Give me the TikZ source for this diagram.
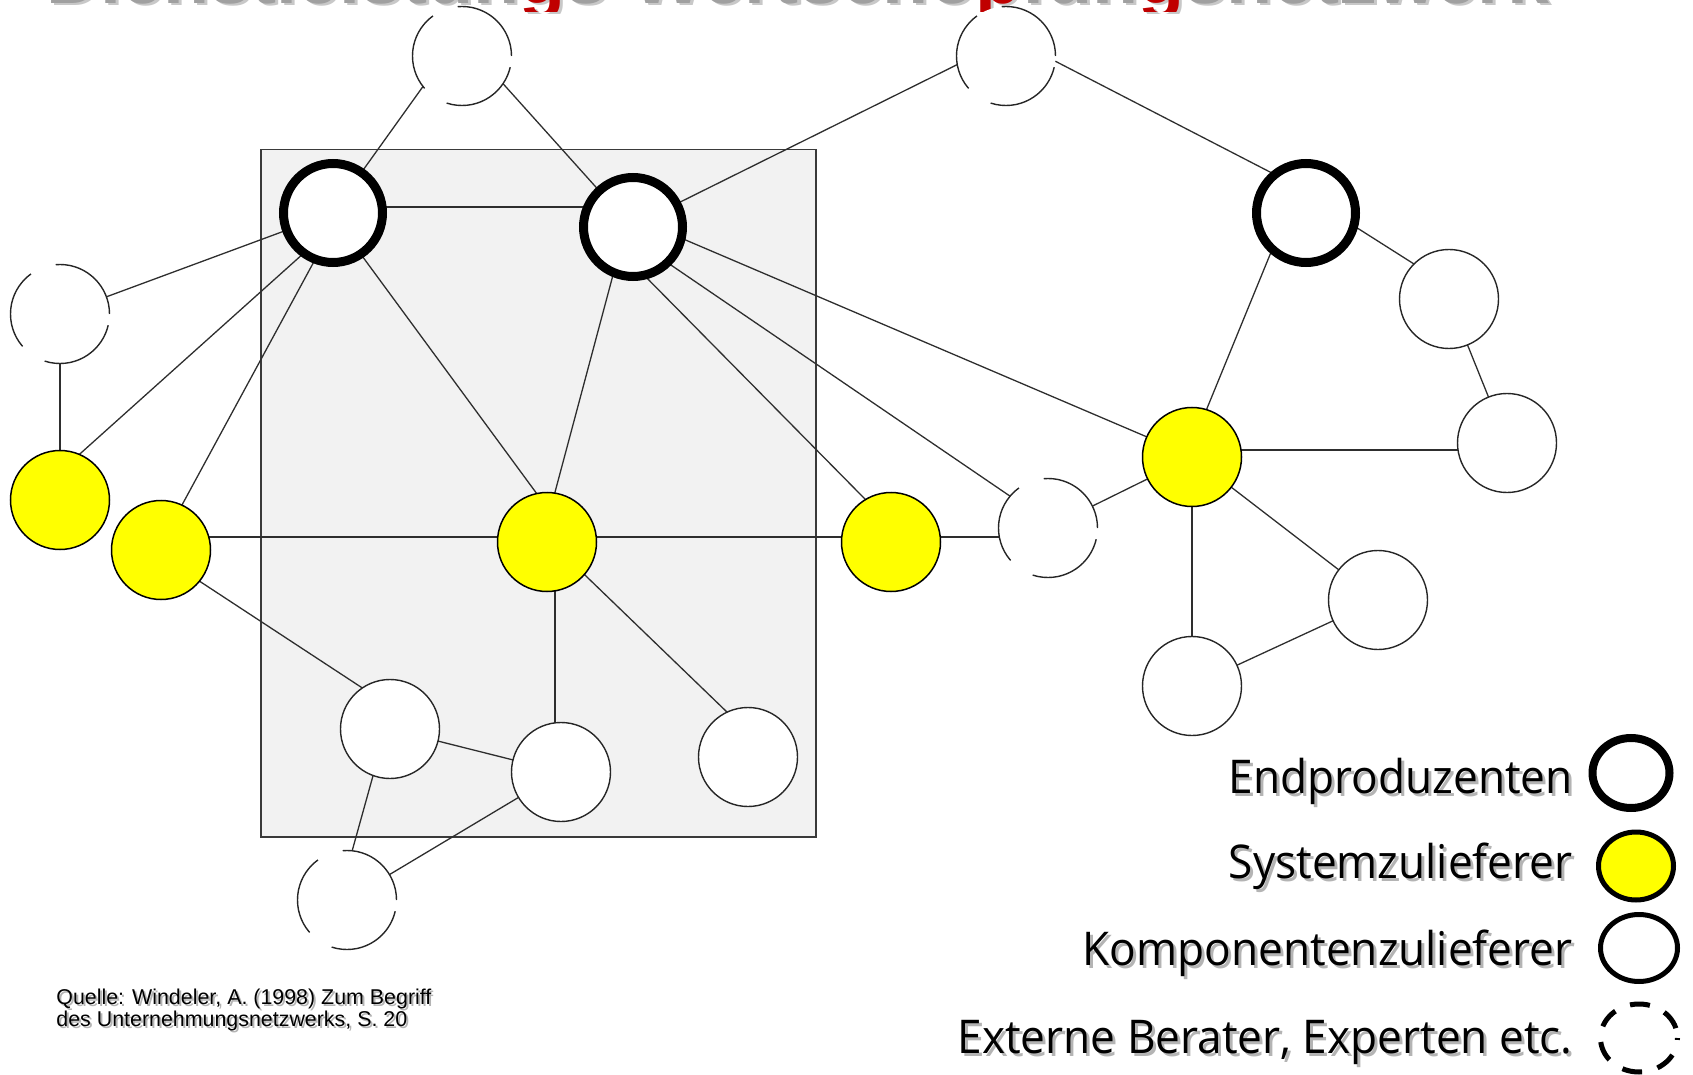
\documentclass[tikz,border=0pt]{standalone}
\usepackage{fontspec}
\setmainfont{Liberation Sans}
\newfontfamily\legfont[FakeStretch=0.95]{Open Sans}
\newfontfamily\srcfont{Liberation Sans}
\newfontfamily\ttlfont{Liberation Sans}
\usetikzlibrary{shapes.geometric}
\pgfdeclarelayer{bgl}
\pgfdeclarelayer{edgel}
\pgfsetlayers{bgl,edgel,main}
\definecolor{edgecol}{HTML}{2E2E2E}
\definecolor{boxfill}{HTML}{F2F2F2}
\definecolor{boxline}{HTML}{3A3A3A}
\definecolor{sysyellow}{HTML}{FFFF00}
\definecolor{titlered}{HTML}{C00000}
\definecolor{shadowgray}{HTML}{B4B4B4}
\definecolor{titlegray}{HTML}{A0A0A0}
\definecolor{titleshadow}{HTML}{C8C8C8}
\newcommand{\ttltext}{Dienstleistungs-Wertschöpfungsnetzwerk}
\newcommand{\ttlcolored}{{\color{titlegray}Dienstleistun}{\color{titlered}g}{\color{titlegray}s-Wertsch\"o}{\color{titlered}p}{\color{titlegray}fun}{\color{titlered}g}{\color{titlegray}snetzwerk}}
\begin{document}
\begin{tikzpicture}[x=0.5pt,y=-0.5pt,
  nd/.style={circle,minimum size=49.5pt,inner sep=0pt,outer sep=0pt},
  endp/.style={nd,draw=black,line width=4.5pt,fill=white},
  sysz/.style={nd,draw=black,line width=0.75pt,fill=sysyellow},
  komp/.style={nd,draw=black!85,line width=0.7pt,fill=white},
  ext/.style={nd,draw=black!85,line width=0.7pt,fill=white,dash pattern=on 41pt off 13.4pt},
  link/.style={draw=edgecol,line width=0.65pt},
  legtxt/.style={anchor=base east,inner sep=0pt,font=\legfont\fontsize{23.25pt}{26pt}\selectfont},
  srctxt/.style={anchor=base west,inner sep=0pt,font=\srcfont\fontsize{10.7pt}{11pt}\selectfont},
  ttltxt/.style={anchor=base west,inner sep=0pt,font=\ttlfont\bfseries\fontsize{37.7pt}{40pt}\selectfont},
  legel/.style={ellipse,inner sep=0pt,outer sep=0pt,minimum width=38.5pt,minimum height=34pt}
]
\useasboundingbox (0,0) rectangle (1693,1075);

% title (cut off at the top edge)
\begin{scope}
  \clip (0,0) rectangle (1693,14);
  \node[ttltxt,text=titleshadow] (ttlshadow) at (49,6) {\ttltext};
\end{scope}
\begin{scope}
  \clip (0,0) rectangle (1693,11.5);
  \node[ttltxt] (ttl) at (46,4) {\ttlcolored};
\end{scope}

% grey box
\begin{pgfonlayer}{bgl}
  \node[rectangle,draw=boxline,fill=boxfill,line width=0.75pt,minimum width=277.5pt,minimum height=343.5pt,anchor=north west,inner sep=0pt] (box) at (260,149) {};
\end{pgfonlayer}

% nodes
\node[ext] (D1) at (462,56) {};
\node[ext] (D2) at (1006,56) {};
\node[ext] (D3) at (60,314) {};
\node[ext] (D4) at (1048,528) {};
\node[ext] (D5) at (347,900) {};

\node[endp] (E1) at (333,213) {};
\node[endp] (E2) at (633,227) {};
\node[endp] (E3) at (1306,213) {};

\node[sysz] (Y1) at (60,500) {};
\node[sysz] (Y2) at (161,550) {};
\node[sysz] (Y3) at (547,542) {};
\node[sysz] (Y4) at (891,542) {};
\node[sysz] (Y5) at (1192,457) {};

\node[komp] (W1) at (1449,299) {};
\node[komp] (W2) at (1507,443) {};
\node[komp] (W3) at (1378,600) {};
\node[komp] (W4) at (1192,686) {};
\node[komp] (W5) at (390,729) {};
\node[komp] (W6) at (561,772) {};
\node[komp] (W7) at (748,757) {};

\coordinate (h1) at (0,537);
\coordinate (h2) at (0,450);
\coordinate (v1) at (555,0);

% connectors
\begin{pgfonlayer}{edgel}
\draw[link] (D1.218) -- (E1.55);
\draw[link] (D1.-34) -- (E2.133);
\draw[link] (D2.190) -- (E2.28);
\draw[link] (D2.-6) -- (E3.129);
\draw[link] ([yshift=3pt]E1.center) -- ([yshift=3pt]E1.center -| E2.center);
\draw[link] (E1) -- (D3);
\draw[link] (E1.234) -- (Y1.67);
\draw[link] (E1.249) -- (Y2.65);
\draw[link] (E1.-56) -- (Y3.102);
\draw[link] (E2.247) -- (Y3.81);
\draw[link] (E2.-77) -- (Y4.121);
\draw[link] (E2.-46) -- (D4.140);
\draw[link] (E2.-13) -- (Y5.156);
\draw[link] (E3.227) -- (Y5.73);
\draw[link] (E3.-15) -- (W1.135);
\draw[link] (W1) -- (W2);
\draw[link] (Y5 |- h2) -- (W2 |- h2);
\draw[link] (Y5) -- (W3);
\draw[link] (Y5) -- (W4);
\draw[link] (W4) -- (W3);
\draw[link] (Y5) -- (D4);
\draw[link] (D3) -- (Y1);
\draw[link] (Y2 |- h1) -- (D4 |- h1);
\draw[link] (Y2.-39) -- (W5.124);
\draw[link] (v1 |- Y3) -- (v1 |- W6);
\draw[link] (Y3.-41) -- (W7.115);
\draw[link] (W5) -- (W6);
\draw[link] (W5.250) -- (D5.84);
\draw[link] (W6) -- (D5);
\end{pgfonlayer}

% legend
\node[legel,draw=black,line width=4pt,minimum width=38.5pt,minimum height=35pt] (LE) at (1631,773) {};
\node[legel,draw=black,line width=2.5pt,fill=sysyellow,minimum width=37.5pt,minimum height=34pt] (LS) at (1636,866) {};
\node[legel,draw=black,line width=2.5pt,minimum width=38.5pt,minimum height=33.5pt] (LK) at (1639,948) {};
\node[legel,draw=black,line width=2.5pt,minimum width=38.5pt,minimum height=34pt,dash pattern=on 10pt off 8pt,dash phase=13pt] (LX) at (1639,1038) {};

\node[legtxt,text=shadowgray] (t1s) at (1576,796) {Endproduzenten};
\node[legtxt] (t1) at (1573,793) {Endproduzenten};
\node[legtxt,text=shadowgray] (t2s) at (1576,881) {Systemzulieferer};
\node[legtxt] (t2) at (1573,878) {Systemzulieferer};
\node[legtxt,text=shadowgray] (t3s) at (1576,968) {Komponentenzulieferer};
\node[legtxt] (t3) at (1573,965) {Komponentenzulieferer};
\node[legtxt,text=shadowgray] (t4s) at (1576,1056) {Externe Berater, Experten etc.};
\node[legtxt] (t4) at (1573,1053) {Externe Berater, Experten etc.};

% source
\node[srctxt,text=shadowgray] (s1s) at (58,1006) {Quelle: Windeler, A. (1998) Zum Begriff};
\node[srctxt] (s1) at (56,1004) {Quelle: Windeler, A. (1998) Zum Begriff};
\node[srctxt,text=shadowgray] (s2s) at (58,1028) {des Unternehmungsnetzwerks, S. 20};
\node[srctxt] (s2) at (56,1026) {des Unternehmungsnetzwerks, S. 20};
\end{tikzpicture}
\end{document}
